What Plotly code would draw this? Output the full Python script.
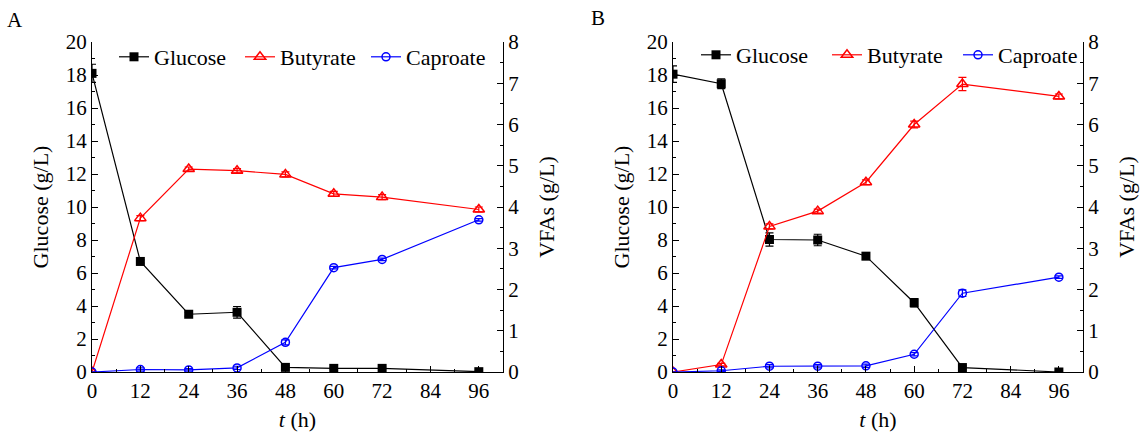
import plotly.graph_objects as go

t = [0, 12, 24, 36, 48, 60, 72, 96]
series_names = ["Glucose", "Butyrate", "Caproate"]

# Panel A
glucose_a = [18.1, 6.7, 3.5, 3.62, 0.28, 0.22, 0.22, 0.02]
glucose_a_err = [0.55, 0.1, 0.12, 0.35, 0.1, 0.08, 0.08, 0.05]
butyrate_a = [0.0, 3.73, 4.92, 4.88, 4.79, 4.32, 4.24, 3.94]
butyrate_a_err = [0.0, 0.06, 0.05, 0.05, 0.06, 0.06, 0.06, 0.06]
caproate_a = [0.0, 0.06, 0.05, 0.1, 0.72, 2.53, 2.73, 3.69]
caproate_a_err = [0.0, 0.04, 0.03, 0.04, 0.06, 0.03, 0.03, 0.03]

# Panel B
glucose_b = [18.05, 17.47, 8.03, 8.0, 7.02, 4.2, 0.27, 0.0]
glucose_b_err = [0.5, 0.3, 0.4, 0.35, 0.2, 0.25, 0.1, 0.05]
butyrate_b = [0.0, 0.18, 3.53, 3.9, 4.6, 6.0, 6.98, 6.68]
butyrate_b_err = [0.0, 0.03, 0.06, 0.05, 0.06, 0.08, 0.16, 0.06]
caproate_b = [0.0, 0.03, 0.14, 0.14, 0.15, 0.43, 1.91, 2.3]
caproate_b_err = [0.0, 0.02, 0.04, 0.04, 0.04, 0.04, 0.08, 0.03]

FONT = "'Liberation Serif', 'Times New Roman', Times, serif"
BLACK = "#000000"
RED = "#ff0000"
BLUE = "#0000ff"

fig = go.Figure()


def add_panel(xa, yl, yr, legend, lw, g, ge, b, be, c, ce):
    fig.add_trace(go.Scatter(
        x=t, y=g, name=series_names[0], mode="lines+markers", xaxis=xa, yaxis=yl,
        legend=legend, legendwidth=lw,
        line=dict(color=BLACK, width=1.2),
        marker=dict(symbol="square", size=9, color=BLACK),
        error_y=dict(type="data", array=ge, color=BLACK, thickness=1.2, width=4),
    ))
    fig.add_trace(go.Scatter(
        x=t, y=b, name=series_names[1], mode="lines+markers", xaxis=xa, yaxis=yr,
        legend=legend, legendwidth=lw,
        line=dict(color=RED, width=1.2),
        marker=dict(symbol="triangle-up-open", size=10, color=RED, line=dict(width=1.5)),
        error_y=dict(type="data", array=be, color=RED, thickness=1.2, width=4),
    ))
    fig.add_trace(go.Scatter(
        x=t, y=c, name=series_names[2], mode="lines+markers", xaxis=xa, yaxis=yr,
        legend=legend, legendwidth=lw,
        line=dict(color=BLUE, width=1.2),
        marker=dict(symbol="circle-open", size=8, color=BLUE, line=dict(width=1.5)),
        error_y=dict(type="data", array=ce, color=BLUE, thickness=1.2, width=4),
    ))


add_panel("x", "y", "y2", "legend", 81, glucose_a, glucose_a_err,
          butyrate_a, butyrate_a_err, caproate_a, caproate_a_err)
add_panel("x2", "y3", "y4", "legend2", 86, glucose_b, glucose_b_err,
          butyrate_b, butyrate_b_err, caproate_b, caproate_b_err)

W, H = 1141, 435
ydom = [63 / H, (H - 42) / H]
domA = [92 / W, 503 / W]
domB = [673 / W, 1083 / W]

tickfont = dict(family=FONT, size=21, color=BLACK)
titlefont = dict(family=FONT, size=22, color=BLACK)

common_axis = dict(
    showline=True, linecolor=BLACK, linewidth=1.3, ticks="inside", ticklen=6,
    tickwidth=1.3, tickcolor=BLACK, showgrid=False, zeroline=False,
    tickfont=tickfont, mirror=False,
)


def xaxis(dom, anchor):
    return dict(common_axis, domain=dom, anchor=anchor, range=[0, 102],
                tickmode="array", tickvals=[0, 12, 24, 36, 48, 60, 72, 84, 96],
                minor=dict(dtick=6, tick0=0, ticks="inside", ticklen=3, tickcolor=BLACK, tickwidth=1.2),
                title=dict(text="<i>t</i> (h)", font=titlefont, standoff=9))


def yleft(anchor):
    return dict(common_axis, domain=ydom, anchor=anchor, range=[0, 20], dtick=2, tick0=0,
                minor=dict(dtick=1, ticks="inside", ticklen=3, tickcolor=BLACK, tickwidth=1.2),
                title=dict(text="Glucose (g/L)", font=titlefont, standoff=10))


def yright(anchor, overlay):
    return dict(common_axis, anchor=anchor, overlaying=overlay, side="right", range=[0, 8],
                dtick=1, tick0=0,
                minor=dict(dtick=0.5, ticks="inside", ticklen=3, tickcolor=BLACK, tickwidth=1.2),
                title=dict(text="VFAs (g/L)", font=titlefont, standoff=20))


legend_common = dict(
    orientation="h", font=dict(family=FONT, size=22, color=BLACK),
    bgcolor="rgba(0,0,0,0)", xanchor="left", yanchor="middle",
    itemclick=False, tracegroupgap=0,
)

fig.update_layout(
    width=W, height=H,
    margin=dict(l=0, r=0, t=0, b=0, autoexpand=False),
    paper_bgcolor="white", plot_bgcolor="white",
    font=dict(family=FONT, color=BLACK),
    showlegend=True,
    xaxis=xaxis(domA, "y"),
    yaxis=yleft("x"),
    yaxis2=yright("x", "y"),
    xaxis2=xaxis(domB, "y3"),
    yaxis3=yleft("x2"),
    yaxis4=yright("x2", "y3"),
    legend=dict(legend_common, x=114 / W, y=(H - 57) / H),
    legend2=dict(legend_common, x=696 / W, y=(H - 55) / H),
    annotations=[
        dict(text="A", x=15 / W, y=(H - 20) / H, xref="paper", yref="paper",
             showarrow=False, font=dict(family=FONT, size=21, color=BLACK),
             xanchor="center", yanchor="middle"),
        dict(text="B", x=598 / W, y=(H - 18) / H, xref="paper", yref="paper",
             showarrow=False, font=dict(family=FONT, size=21, color=BLACK),
             xanchor="center", yanchor="middle"),
    ],
)

fig.write_html("out.html")
